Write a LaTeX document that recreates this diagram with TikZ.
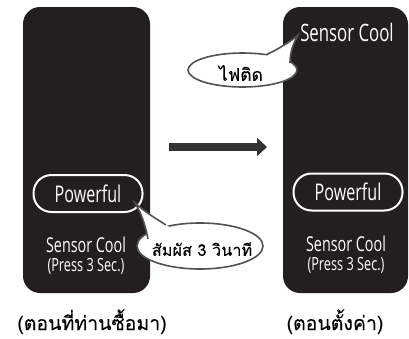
\documentclass[tikz,border=0pt]{standalone}
\usepackage{fontspec}
\usetikzlibrary{arrows.meta}
\newfontfamily\latf[FakeStretch=0.70]{Open Sans}
\newfontfamily\thaif[Script=Thai,FakeBold=0.12]{Loma}
\definecolor{panel}{HTML}{231F20}
\definecolor{arrowc}{HTML}{333333}
\definecolor{bubline}{HTML}{505153}
\tikzset{
  panelbox/.style={fill=panel, rounded corners=17pt},
  powbox/.style={draw=white, line width=2pt, rounded corners=18pt, minimum width=109pt, minimum height=37pt, inner sep=0pt, text=white, font=\latf\fontsize{23}{23}\selectfont},
  wtext/.style={text=white, inner sep=0pt, align=center},
  sctext/.style={wtext, anchor=base, font=\latf\fontsize{20.5}{20.5}\selectfont},
  prtext/.style={wtext, anchor=base, font=\latf\fontsize{18.2}{18.2}\selectfont},
  bubble/.style={draw=bubline, line width=1.6pt, fill=white},
  tailline/.style={draw=bubline, line width=1.6pt},
  thaitext/.style={inner sep=0pt},
  caption/.style={inner sep=0pt, anchor=base, font=\thaif\fontsize{19.5}{19.5}\selectfont}
}
\begin{document}
\begin{tikzpicture}[x=1pt,y=-1pt]
\useasboundingbox (0,0) rectangle (409,338);
% panels
\fill[panelbox] (23,7) rectangle (150,293);
\fill[panelbox] (283,7) rectangle (408,293);
% left panel content
\node[powbox] (powL) at (88,193.5) {Powerful};
\node[sctext] (scL) at (86,252) {Sensor Cool};
\node[prtext] (prL) at (86,271) {(Press 3 Sec.)};
% right panel content
\node[wtext, font=\latf\fontsize{24}{24}\selectfont] (scT) at (347,32) {Sensor Cool};
\node[powbox] (powR) at (348,192) {Powerful};
\node[sctext] (scR) at (346,251) {Sensor Cool};
\node[prtext] (prR) at (346,270) {(Press 3 Sec.)};
% arrow
\coordinate (a1) at (169,147);
\coordinate (a2) at (267,147);
\draw[arrowc, line width=8pt, -{Triangle[length=10pt,width=18pt]}] (a1) -- (a2);
% bubble 1
\coordinate (t1) at (298,35);
\coordinate (e1) at (242.5,70);
\draw[bubble] (e1) ellipse [x radius=54.5, y radius=17];
\fill[white] (266,55) .. controls (280,48) and (290,42) .. (t1) .. controls (292,46) and (290,54) .. (290,63) -- (e1) -- cycle;
\draw[tailline] (266,55) .. controls (280,48) and (290,42) .. (t1) .. controls (292,46) and (290,54) .. (290,63);
\node[thaitext, font=\thaif\fontsize{17.5}{17.5}\selectfont] (b1) at (241,73) {ไฟติด};
% bubble 2
\coordinate (t2) at (135,203);
\coordinate (e2) at (200,246);
\draw[bubble] (e2) ellipse [x radius=63, y radius=23];
\fill[white] (148,239) .. controls (146,228) and (142,214) .. (t2) .. controls (145,212) and (155,218) .. (166,225) -- (e2) -- cycle;
\draw[tailline] (148,239) .. controls (146,228) and (142,214) .. (t2) .. controls (145,212) and (155,218) .. (166,225);
\node[thaitext, font=\thaif\fontsize{16.3}{16.3}\selectfont] (b2) at (202,249) {สัมผัส 3 วินาที};
% captions
\node[caption] (capL) at (92,330) {(ตอนที่ท่านซื้อมา)};
\node[caption] (capR) at (335,330) {(ตอนตั้งค่า)};
\end{tikzpicture}
\end{document}
